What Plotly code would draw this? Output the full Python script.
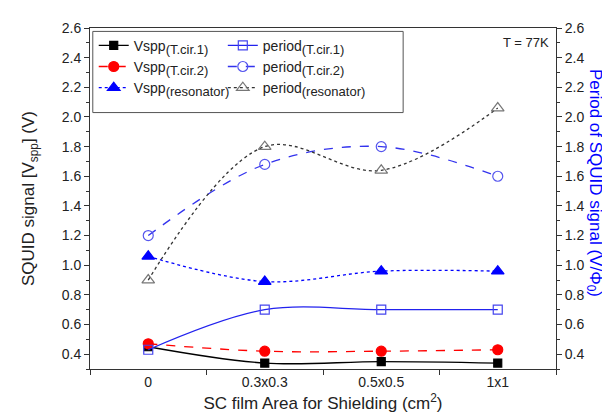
import plotly.graph_objects as go

categories = ["0", "0.3x0.3", "0.5x0.5", "1x1"]
vspp_t1 = [0.45, 0.34, 0.35, 0.34]
vspp_t2 = [0.47, 0.42, 0.42, 0.43]
vspp_res = [1.06, 0.89, 0.96, 0.96]
period_t1 = [0.43, 0.70, 0.70, 0.70]
period_t2 = [1.20, 1.68, 1.80, 1.60]
period_res = [0.90, 1.80, 1.64, 2.06]
y_ticks = [0.4, 0.6, 0.8, 1.0, 1.2, 1.4, 1.6, 1.8, 2.0, 2.2, 2.4, 2.6]

FONT = "Liberation Sans, Arial, sans-serif"
fig = go.Figure()

def sub(base, s):
    return f"{base}<sub><span style='font-size:13px'>{s}</span></sub>"

def add(name, y, color, dash, symbol, msize, mcolor, lcolor, yaxis, legend, lw=1.3):
    fig.add_trace(go.Scatter(
        x=categories, y=y, name=name, mode="lines+markers", yaxis=yaxis, legend=legend,
        line=dict(color=lcolor, dash=dash, width=lw, shape="spline", smoothing=1.0),
        marker=dict(symbol=symbol, size=msize, color=mcolor,
                    line=dict(color=color, width=1.2)),
    ))

add(sub("Vspp", "(T.cir.1)"), vspp_t1, "black", "solid", "square", 8, "black", "black", "y", "legend")
add(sub("Vspp", "(T.cir.2)"), vspp_t2, "red", "dash", "circle", 10, "red", "red", "y", "legend")
add(sub("Vspp", "(resonator)"), vspp_res, "blue", "dot", "triangle-up", 11, "blue", "blue", "y", "legend")
add(sub("period", "(T.cir.1)"), period_t1, "#4444ee", "solid", "square-open", 9, "#4444ee", "#2222ee", "y2", "legend2")
add(sub("period", "(T.cir.2)"), period_t2, "#5555ee", "dash", "circle-open", 10, "#5555ee", "#3333ee", "y2", "legend2")
add(sub("period", "(resonator)"), period_res, "#777777", "dot", "triangle-up-open", 11, "#777777", "#333333", "y2", "legend2")

axis_common = dict(
    range=[0.3, 2.6], tickvals=y_ticks, ticktext=[f"{v:.1f}" for v in y_ticks],
    ticks="outside", ticklen=5, tickwidth=1, tickcolor="#333",
    minor=dict(dtick=0.1, ticks="outside", ticklen=3, tickcolor="#333", showgrid=False),
    showline=True, linecolor="#333", linewidth=1, showgrid=False, zeroline=False,
    tickfont=dict(family=FONT, size=14, color="#222"),
)

fig.update_layout(
    width=610, height=415,
    margin=dict(l=82, r=62, t=20, b=54),
    plot_bgcolor="white", paper_bgcolor="white",
    font=dict(family=FONT, color="#222"),
    showlegend=True,
    xaxis=dict(
        type="category", range=[-0.5, 3.5], tickson="boundaries",
        ticks="outside", ticklen=5, tickcolor="#333",
        showline=True, linecolor="#333", linewidth=1, mirror=True, showgrid=False,
        tickfont=dict(family=FONT, size=14, color="#222"),
        title=dict(text="SC film Area for Shielding (cm<sup>2</sup>)",
                   font=dict(family=FONT, size=17, color="#222"), standoff=8),
    ),
    yaxis=dict(**axis_common,
               title=dict(text="SQUID signal [V<sub>spp</sub>] (V)",
                          font=dict(family=FONT, size=17, color="#222"), standoff=22)),
    yaxis2=dict(**axis_common, overlaying="y", side="right"),
    legend=dict(x=0.008, y=0.995, xanchor="left", yanchor="top",
                bgcolor="rgba(0,0,0,0)", font=dict(family=FONT, size=14, color="#222"),
                tracegroupgap=0, itemwidth=30),
    legend2=dict(x=0.285, y=0.995, xanchor="left", yanchor="top",
                 bgcolor="rgba(0,0,0,0)", font=dict(family=FONT, size=14, color="#222"),
                 tracegroupgap=0, itemwidth=30),
    shapes=[dict(type="rect", xref="paper", yref="paper", x0=0.006, x1=0.672,
                 y0=0.752, y1=0.99, line=dict(color="#555", width=1))],
    annotations=[
        dict(text="T = 77K", xref="paper", yref="paper", x=0.99, y=0.985,
             xanchor="right", yanchor="top", showarrow=False,
             font=dict(family=FONT, size=13, color="#222")),
        dict(text="Period of SQUID signal (V/Φ<sub>0</sub>)", xref="paper", yref="paper",
             x=1.082, y=0.545, textangle=90, showarrow=False, xanchor="center", yanchor="middle",
             font=dict(family=FONT, size=17, color="blue")),
    ],
)

fig.write_html("out.html")
